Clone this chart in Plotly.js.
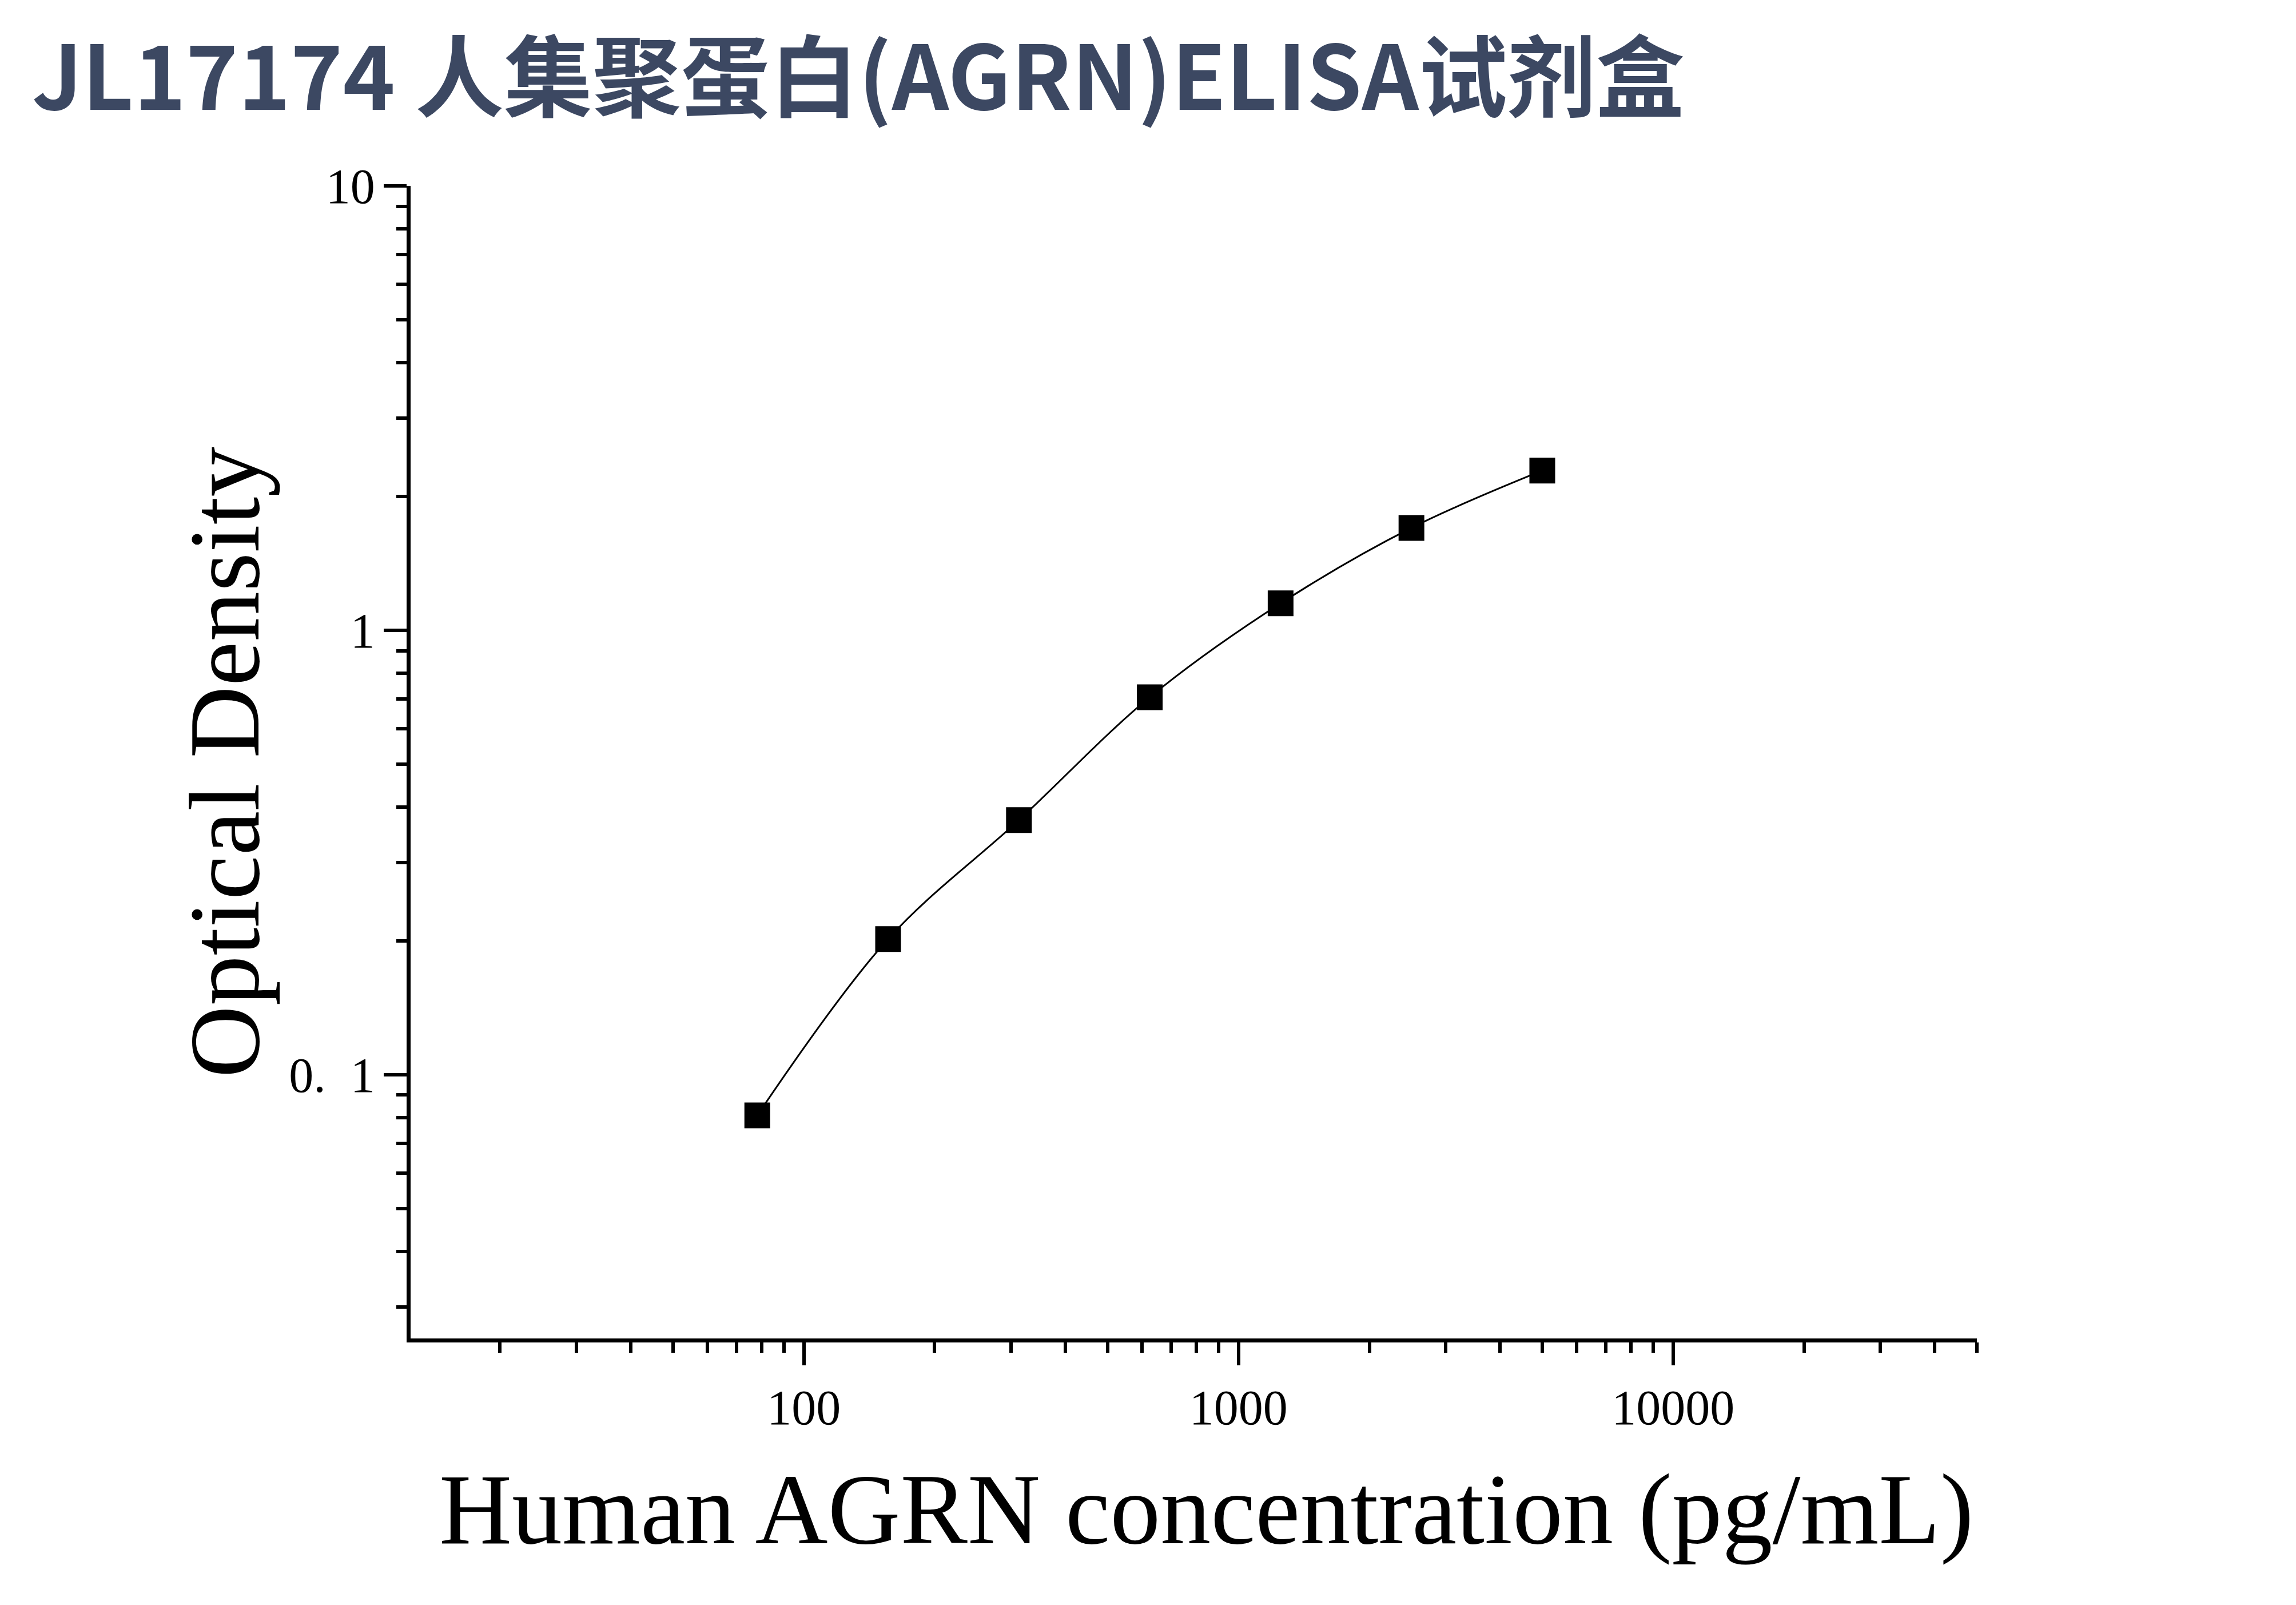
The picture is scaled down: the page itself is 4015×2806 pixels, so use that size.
<!DOCTYPE html>
<html>
<head>
<meta charset="utf-8">
<script src="https://cdn.plot.ly/plotly-3.0.1.min.js"></script>
<style>
  html, body { margin: 0; padding: 0; background: #ffffff; }
  #chart { width: 4015px; height: 2806px; }
</style>
</head>
<body>
<div id="chart"></div>
<script>
// Standard concentrations (pg/mL)
const concentration = [78.125, 156.25, 312.5, 625, 1250, 2500, 5000];
// Optical density readings
const opticalDensity = [0.081, 0.202, 0.374, 0.707, 1.150, 1.700, 2.288];

// Tick labels
const xTickValues = [100, 1000, 10000];
const xTickLabels = ["100", "1000", "10000"];
const yTickValues = [0.1, 1, 10];
const yTickLabels = ["0.\u20021", "1", "10"];

const chartTitle = "JL17174 人集聚蛋白(AGRN)ELISA试剂盒";
const xTitle = "Human AGRN concentration (pg/mL)";
const yTitle = "Optical Density";

const serif = "'Liberation Serif', 'Times New Roman', serif";

const traces = [
  {
    x: concentration,
    y: opticalDensity,
    type: "scatter",
    mode: "lines",
    line: { color: "#000000", width: 3, shape: "spline", smoothing: 1 },
    hoverinfo: "skip",
    showlegend: false
  },
  {
    x: concentration,
    y: opticalDensity,
    type: "scatter",
    mode: "markers",
    marker: { symbol: "square", size: 45, color: "#000000" },
    showlegend: false
  }
];

const layout = {
  width: 4015,
  height: 2806,
  paper_bgcolor: "#ffffff",
  plot_bgcolor: "#ffffff",
  margin: { l: 718, r: 558, t: 325, b: 466, pad: 0 },
  showlegend: false,
  title: {
    text: "<b>" + chartTitle + "</b>",
    font: { family: "'Noto Sans CJK SC', 'Noto Sans', sans-serif", size: 155, color: "#3c4862" },
    xref: "container",
    yref: "container",
    x: 56 / 4015,
    xanchor: "left",
    y: 1 - 83 / 2806,
    yanchor: "top"
  },
  xaxis: {
    type: "log",
    range: [Math.log10(12.45), Math.log10(50000)],
    showgrid: false,
    zeroline: false,
    showline: true,
    linecolor: "#000000",
    linewidth: 7,
    mirror: false,
    tickmode: "array",
    tickvals: xTickValues,
    ticktext: xTickLabels,
    ticks: "outside",
    ticklen: 40,
    tickwidth: 6,
    tickcolor: "#000000",
    ticklabelstandoff: 0,
    tickfont: { family: serif, size: 86, color: "#000000" },
    minor: { dtick: "D1", ticks: "outside", ticklen: 18, tickwidth: 6, tickcolor: "#000000", showgrid: false },
    title: { text: "" },
    automargin: false,
    fixedrange: true
  },
  yaxis: {
    type: "log",
    range: [Math.log10(0.0255), 1],
    showgrid: false,
    zeroline: false,
    showline: true,
    linecolor: "#000000",
    linewidth: 7,
    mirror: false,
    tickmode: "array",
    tickvals: yTickValues,
    ticktext: yTickLabels,
    ticks: "outside",
    ticklen: 40,
    tickwidth: 6,
    tickcolor: "#000000",
    ticklabelstandoff: -2,
    tickfont: { family: serif, size: 86, color: "#000000" },
    minor: { dtick: "D1", ticks: "outside", ticklen: 18, tickwidth: 6, tickcolor: "#000000", showgrid: false },
    title: { text: "" },
    automargin: false,
    fixedrange: true
  },
  annotations: [
    {
      text: xTitle,
      xref: "paper", yref: "paper",
      x: 0.5082, y: -0.148,
      xanchor: "center", yanchor: "middle",
      showarrow: false,
      font: { family: serif, size: 176, color: "#000000" }
    },
    {
      text: yTitle,
      xref: "paper", yref: "paper",
      x: -0.1187, y: 0.5,
      xanchor: "center", yanchor: "middle",
      textangle: -90,
      showarrow: false,
      font: { family: serif, size: 175, color: "#000000" }
    }
  ]
};

Plotly.newPlot("chart", traces, layout, { staticPlot: true, displayModeBar: false });
</script>
</body>
</html>
